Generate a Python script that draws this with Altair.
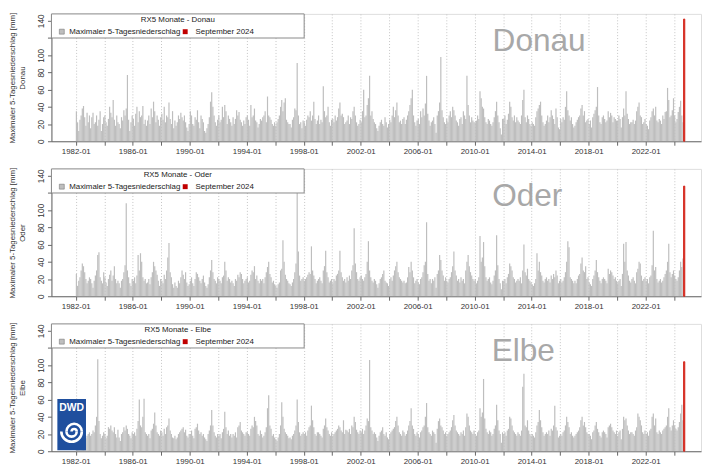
import altair as alt
import pandas as pd
import math

# Monthly RX5 (max. 5-day precipitation, mm), Jan 1982 .. Aug 2024, one row per year
donau_rows = [
    [35,22,12,25,30,38,41,28,18,33,22,30],
    [15,28,33,20,22,30,18,25,35,12,20,28],
    [30,22,18,26,40,33,28,48,25,18,30,22],
    [20,15,28,24,36,30,38,77,25,12,22,30],
    [26,18,32,40,22,35,28,30,41,20,25,18],
    [24,30,20,38,28,46,35,22,30,25,18,28],
    [32,25,40,22,30,28,45,26,20,35,15,24],
    [18,22,30,26,33,28,24,30,22,16,12,20],
    [35,30,20,18,28,25,36,22,15,30,26,22],
    [12,10,15,20,28,46,57,40,30,22,18,25],
    [30,22,25,40,28,42,35,20,30,26,22,18],
    [28,20,26,36,30,34,25,22,18,24,20,28],
    [30,25,18,42,28,30,38,24,22,16,20,26],
    [24,28,30,35,22,52,30,28,25,20,18,22],
    [18,22,26,30,40,48,35,45,50,25,22,20],
    [20,16,25,28,38,36,91,30,20,22,15,24],
    [22,18,25,30,28,35,24,30,46,26,20,24],
    [30,20,25,22,64,35,28,30,40,22,18,25],
    [26,22,30,24,28,38,45,30,32,28,20,22],
    [24,30,20,28,26,35,40,30,22,18,20,25],
    [22,35,60,28,30,42,50,76,30,35,26,22],
    [20,15,12,18,22,25,20,18,28,22,16,20],
    [25,22,30,40,28,36,45,30,22,24,20,26],
    [28,20,25,30,35,42,50,60,30,22,18,24],
    [26,20,35,28,38,30,44,76,32,24,18,22],
    [24,28,20,10,30,35,45,98,36,28,22,20],
    [26,22,30,35,28,40,36,30,24,22,18,26],
    [28,20,35,30,26,76,42,30,22,28,24,22],
    [22,24,30,26,58,50,40,38,28,22,20,26],
    [24,20,18,22,28,35,46,30,22,15,8,26],
    [26,30,20,25,32,46,40,28,24,30,22,28],
    [24,22,20,30,48,60,28,22,30,26,20,18],
    [22,20,18,28,35,38,42,46,30,22,18,20],
    [24,30,22,28,36,30,26,20,38,28,16,14],
    [26,22,28,25,40,58,36,30,24,28,20,16],
    [18,22,25,28,30,38,42,30,35,22,24,26],
    [20,24,16,28,32,36,40,63,30,22,20,28],
    [30,26,22,24,35,28,33,30,22,28,26,24],
    [24,30,26,16,28,38,30,58,32,26,20,22],
    [22,25,20,24,35,40,45,30,28,20,22,26],
    [20,18,14,24,28,35,38,30,40,24,22,26],
    [24,20,30,26,34,35,62,48,28,30,36,50],
    [30,22,26,34,40,47,30,22],
]
oder_rows = [
    [26,12,18,22,30,38,35,28,20,15,18,22],
    [20,15,10,18,24,30,48,51,22,18,15,28],
    [22,16,12,20,25,30,18,24,35,20,15,18],
    [15,10,18,20,28,36,108,30,22,15,12,20],
    [18,22,15,24,48,30,50,40,22,18,20,15],
    [16,20,14,22,28,40,35,30,25,18,12,20],
    [18,15,25,20,30,45,62,28,22,14,10,16],
    [12,10,18,15,22,30,25,20,28,16,12,14],
    [18,22,15,12,20,28,26,22,18,15,20,24],
    [16,12,10,14,22,30,42,28,20,18,15,22],
    [20,18,15,22,24,40,30,18,22,20,16,18],
    [15,12,20,18,25,22,28,26,20,15,18,20],
    [22,16,18,25,30,28,35,20,24,18,15,20],
    [18,20,15,22,28,34,40,26,22,16,18,14],
    [12,10,14,16,30,32,65,40,25,20,18,15],
    [14,12,16,20,28,38,134,52,24,18,20,22],
    [18,20,22,25,28,26,58,30,24,20,15,18],
    [20,22,18,15,30,35,53,28,22,16,18,20],
    [15,20,18,24,26,30,53,28,22,18,20,16],
    [22,18,24,20,30,36,79,38,28,20,18,22],
    [24,20,18,22,26,40,64,30,22,18,16,20],
    [18,14,10,15,20,22,26,30,18,16,15,12],
    [20,22,18,24,30,35,40,28,22,20,18,16],
    [18,15,16,22,34,28,40,30,22,15,18,20],
    [16,14,20,22,28,36,40,86,26,18,20,15],
    [20,18,22,10,26,30,48,42,30,24,18,22],
    [18,16,20,22,28,35,52,30,24,18,20,16],
    [22,18,20,15,30,40,48,35,28,24,20,18],
    [20,15,18,22,70,40,45,63,35,22,18,20],
    [22,16,14,18,24,30,71,36,20,15,8,18],
    [18,20,15,22,26,38,35,30,22,20,16,18],
    [20,18,22,15,30,60,28,24,32,20,18,16],
    [14,12,15,20,50,30,40,28,24,18,16,20],
    [22,18,20,16,24,20,26,22,30,24,15,18],
    [20,16,18,22,28,40,64,57,22,20,18,15],
    [18,15,20,24,26,38,45,30,28,35,20,22],
    [16,14,12,20,24,30,42,28,22,18,15,20],
    [22,20,18,15,32,26,30,28,24,20,22,18],
    [15,18,20,12,26,61,40,63,30,24,18,16],
    [20,22,18,15,28,32,40,38,24,18,20,22],
    [18,20,15,22,24,36,76,30,34,20,16,18],
    [20,16,18,22,26,30,40,61,28,22,26,30],
    [24,20,18,22,30,40,34,44],
]
elbe_rows = [
    [22,18,20,25,28,30,26,20,15,18,20,22],
    [18,20,24,22,30,40,107,35,20,15,18,22],
    [20,15,18,28,26,30,24,22,28,20,16,25],
    [16,12,20,22,28,24,30,26,20,18,15,22],
    [20,22,18,26,35,60,30,28,40,61,22,20],
    [18,20,15,24,26,32,45,30,22,20,18,24],
    [22,18,26,20,28,30,38,24,20,16,15,18],
    [14,16,20,22,24,26,28,22,25,18,16,20],
    [20,24,18,15,26,28,32,24,20,22,18,20],
    [16,14,12,20,24,30,48,30,22,18,16,20],
    [18,20,15,22,26,46,28,20,24,18,20,16],
    [20,18,22,16,28,30,34,24,22,20,18,22],
    [22,20,18,26,30,28,40,35,30,20,18,24],
    [20,16,18,22,28,50,65,30,26,18,20,16],
    [14,12,16,20,30,57,40,26,22,20,18,15],
    [16,14,18,20,24,30,60,34,22,18,20,22],
    [20,22,18,24,28,30,53,36,28,20,18,22],
    [22,20,18,16,26,30,38,28,24,20,18,22],
    [18,20,22,24,26,30,28,24,22,36,20,25],
    [24,22,26,20,30,28,40,34,25,22,20,24],
    [22,26,20,24,30,38,35,106,28,24,20,22],
    [20,16,12,18,22,24,28,20,18,22,16,14],
    [20,22,24,26,28,35,40,30,22,20,18,24],
    [22,18,20,24,30,35,50,30,26,20,18,22],
    [20,16,22,24,28,30,40,56,28,22,20,18],
    [24,22,20,10,26,35,38,30,28,24,20,22],
    [18,20,22,24,28,36,42,30,24,22,20,18],
    [22,20,24,18,28,44,40,30,24,22,20,24],
    [20,18,22,24,50,40,45,84,38,26,22,20],
    [24,22,18,20,26,30,54,36,24,20,10,22],
    [20,22,18,24,26,40,38,30,24,22,20,18],
    [22,20,18,24,75,90,30,28,36,24,20,18],
    [20,18,16,22,30,34,48,36,28,22,18,20],
    [22,20,24,18,26,24,30,53,28,24,16,18],
    [20,18,22,24,30,40,34,28,20,22,18,16],
    [18,20,22,24,28,36,40,30,34,28,22,20],
    [20,18,14,22,24,30,34,26,22,18,16,22],
    [24,22,20,16,28,30,32,28,24,22,20,24],
    [18,22,24,14,26,40,36,38,30,24,20,22],
    [22,20,18,24,28,44,40,36,30,22,20,24],
    [20,22,18,24,26,40,44,30,38,22,20,24],
    [22,20,24,26,28,30,40,50,28,24,30,36],
    [30,26,24,28,34,44,54,36],
]
september_2024 = {"Donau": 142, "Oder": 128, "Elbe": 104}

x_ticks = list(range(1982, 2025, 2))
y_ticks = [0, 20, 40, 60, 80, 100, 120, 140]
legend_labels = ["Maximaler 5-Tagesniederschlag", "September 2024"]
river_label_x = {"Donau": 494, "Oder": 482, "Elbe": 478}

FONT = "Liberation Sans"
GREY = "#bebebe"
RED = "#d42a20"
W, H = 658, 129


def frames(rows, sep):
    vals = [v for r in rows for v in r]
    recs = []
    for i, v in enumerate(vals):
        x = 1982 + i // 12 + (i % 12) / 12
        recs.append({"x": x, "x2": x + 1 / 12, "v": v})
    red = pd.DataFrame([{"x": 2024 + 8 / 12, "x2": 2024 + 9 / 12, "v": sep}])
    return pd.DataFrame(recs), red


def one():
    return alt.Chart(pd.DataFrame({"a": [0]}))


def logo_layers():
    lr = one().mark_rect(fill="#1f4f9e").encode(
        x=alt.value(6), x2=alt.value(35), y=alt.value(76), y2=alt.value(128)
    )
    lt = one().mark_text(font=FONT, fontSize=10.5, fontWeight="bold", color="white",
                         align="center", baseline="middle").encode(
        x=alt.value(20.5), y=alt.value(85), text=alt.value("DWD")
    )
    out = [lr, lt]
    cx, cy, s, t = 23.0, 109.0, 2.6, 1.3
    # spiral made of alternating half rings
    for k in range(1, 5):
        r = k * s
        if k % 2 == 1:
            th, th2, ccx = 1.5 * math.pi, 2.5 * math.pi, cx
        else:
            th, th2, ccx = 0.5 * math.pi, 1.5 * math.pi, cx - s
        out.append(one().mark_arc(radius=r + t, radius2=max(r - t, 0), theta=th, theta2=th2,
                                  color="white").encode(x=alt.value(ccx), y=alt.value(cy)))
    return out


def panel(name, rows, logo=False):
    grey_df, red_df = frames(rows, september_2024[name])
    xs = alt.Scale(domain=[1980.29, 2025.89], nice=False, zero=False)
    ys = alt.Scale(domain=[0, 148], nice=False)
    xax = alt.Axis(
        values=x_ticks,
        labelExpr="(datum.value-1982)%4==0 ? datum.value + '-01' : ''",
        title=None, grid=True, gridDash=[1, 2], gridColor="#c4c4c4",
        tickSize=4, labelPadding=2, labelFontSize=8, labelFont=FONT,
        labelColor="#333", domainColor="#666", tickColor="#666",
        labelOverlap=False,
    )
    yax = alt.Axis(
        values=y_ticks,
        labelExpr="datum.value == 120 ? '' : datum.label",
        title=["Maximaler 5-Tagesniederschlag [mm]", name],
        titleFont=FONT, titleFontSize=8, titleFontWeight="normal",
        titleColor="#333", titlePadding=10, titleLineHeight=10,
        grid=False, labelAngle=270, labelAlign="center", labelBaseline="bottom",
        tickSize=4, labelPadding=2, labelFontSize=8.5, labelFont=FONT,
        labelColor="#333", domainColor="#666", tickColor="#666",
        labelOverlap=False,
    )
    bars = alt.Chart(grey_df).mark_bar(color=GREY, strokeWidth=0).encode(
        x=alt.X("x:Q", scale=xs, axis=xax),
        x2="x2:Q",
        y=alt.Y("v:Q", scale=ys, axis=yax),
        y2=alt.datum(0),
    )
    redbar = alt.Chart(red_df).mark_bar(color=RED, stroke=RED, strokeWidth=1).encode(
        x=alt.X("x:Q", scale=xs, axis=xax), x2="x2:Q",
        y=alt.Y("v:Q", scale=ys, axis=yax), y2=alt.datum(0)
    )
    box = one().mark_rect(fill="white", stroke="#888", strokeWidth=1).encode(
        x=alt.value(0), x2=alt.value(256), y=alt.value(0), y2=alt.value(24.4)
    )
    ltitle = one().mark_text(font=FONT, fontSize=8, color="#222", align="center", baseline="middle").encode(
        x=alt.value(128), y=alt.value(6), text=alt.value(f"RX5 Monate - {name}")
    )
    sw1 = one().mark_rect(fill=GREY, stroke="#777", strokeWidth=0.6).encode(
        x=alt.value(8), x2=alt.value(13), y=alt.value(15.5), y2=alt.value(20.5)
    )
    sw2 = one().mark_rect(fill="#c00000").encode(
        x=alt.value(133), x2=alt.value(138), y=alt.value(15.5), y2=alt.value(20.5)
    )
    t1 = one().mark_text(font=FONT, fontSize=8, color="#222", align="left", baseline="middle").encode(
        x=alt.value(18), y=alt.value(18), text=alt.value(legend_labels[0])
    )
    t2 = one().mark_text(font=FONT, fontSize=8, color="#222", align="left", baseline="middle").encode(
        x=alt.value(146), y=alt.value(18), text=alt.value(legend_labels[1])
    )
    big = one().mark_text(font=FONT, fontSize=32, color="#a8a8a8", align="center", baseline="middle").encode(
        x=alt.value(river_label_x[name]), y=alt.value(28), text=alt.value(name)
    )
    layers = [bars, redbar, box, ltitle, sw1, sw2, t1, t2, big]
    if logo:
        layers += logo_layers()
    return alt.layer(*layers).properties(width=W, height=H)


chart = alt.vconcat(
    panel("Donau", donau_rows),
    panel("Oder", oder_rows),
    panel("Elbe", elbe_rows, logo=True),
    spacing=28,
    bounds="flush",
).properties(padding=0).configure_view(
    stroke="#888", strokeWidth=1
).configure_axis(labelOverlap=False).configure(font=FONT)

chart.save("out.html", embed_options={"renderer": "svg", "actions": False})
